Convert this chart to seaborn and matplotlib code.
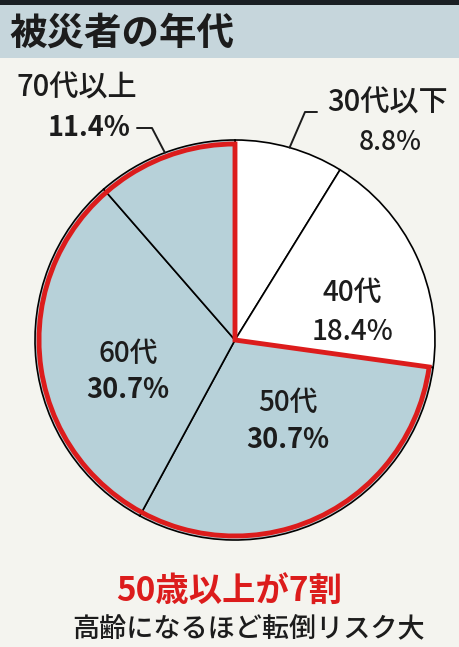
import numpy as np
import seaborn as sns
import matplotlib.pyplot as plt
from matplotlib.patches import Wedge, Rectangle

# data
age_groups = ["30代以下", "40代", "50代", "60代", "70代以上"]
shares = [8.8, 18.4, 30.7, 30.7, 11.4]
share_labels = ["8.8%", "18.4%", "30.7%", "30.7%", "11.4%"]
title = "被災者の年代"
headline = "50歳以上が7割"
subline = "高齢になるほど転倒リスク大"

sns.set_theme(style="white")
plt.rcParams["font.family"] = ["Noto Sans CJK JP", "DejaVu Sans"]

bg = "#f4f4ef"
blue = "#b7d1d9"
red = "#dc1c1c"
ink = "#1c1c1c"
slice_colors = ["white", "white", blue, blue, blue]
bold_pct = [False, False, True, True, True]

fig = plt.figure(figsize=(4.59, 6.47), dpi=100, facecolor=bg)

# header bands
fig.patches.append(Rectangle((0, 1 - 5 / 647), 1, 5 / 647, transform=fig.transFigure,
                             facecolor="#1a1f24", edgecolor="none"))
fig.patches.append(Rectangle((0, 1 - 58 / 647), 1, 53 / 647, transform=fig.transFigure,
                             facecolor="#c6d6dc", edgecolor="none"))
fig.text(9 / 459, 1 - 33 / 647, title, fontsize=27, fontweight="bold", color=ink,
         va="center", ha="left")

ax = fig.add_axes([35 / 459, 107 / 647, 400 / 459, 400 / 647])
ax.set_facecolor("none")
wedges, _ = ax.pie(shares, colors=slice_colors, startangle=90, counterclock=False,
                   radius=1, wedgeprops=dict(edgecolor="black", linewidth=1.2))
ax.set_xlim(-1, 1)
ax.set_ylim(-1, 1)

# red outline around the 50+ group (clockwise from the 50代 edge up to the top)
over50_start = 90 - 360 * sum(shares[:2]) / sum(shares)
ax.add_patch(Wedge((0, 0), 0.98, 90, over50_start + 360, fill=False, edgecolor=red,
                   linewidth=3.5, joinstyle="miter", zorder=5))

# labels inside the pie
inside = {1: (0.585, 0.24, 0.04), 2: (0.265, -0.31, -0.5), 3: (-0.535, -0.065, -0.25)}
for i, (x, y1, y2) in inside.items():
    ax.text(x, y1, age_groups[i], ha="center", va="center", fontsize=20,
            fontweight="medium", color=ink)
    ax.text(x, y2, share_labels[i], ha="center", va="center",
            fontsize=19.5 if bold_pct[i] else 20,
            fontweight="bold" if bold_pct[i] else "medium", color=ink)

cum = np.cumsum([0] + shares) / sum(shares) * 360
def mid_point(i):
    a = np.deg2rad(90 - (cum[i] + cum[i + 1]) / 2)
    return np.cos(a), np.sin(a)

# 30代以下 (outside, top right)
ax.text(0.76, 1.185, age_groups[0], ha="center", va="center", fontsize=21,
        fontweight="medium", color=ink, clip_on=False)
ax.text(0.775, 0.985, share_labels[0], ha="center", va="center", fontsize=19,
        fontweight="medium", color=ink, clip_on=False)
px, py = mid_point(0)
ax.plot([0.41, 0.35, px], [1.14, 1.14, py], color=ink, lw=1.4, clip_on=False)

# 70代以上 (outside, top left)
ax.text(-0.79, 1.26, age_groups[4], ha="center", va="center", fontsize=21,
        fontweight="medium", color=ink, clip_on=False)
ax.text(-0.73, 1.06, share_labels[4], ha="center", va="center", fontsize=19.5,
        fontweight="bold", color=ink, clip_on=False)
px, py = mid_point(4)
ax.plot([-0.49, -0.415, px], [1.06, 1.06, py], color=ink, lw=1.4, clip_on=False)

fig.text(229 / 459, 1 - 592 / 647, headline, fontsize=24, fontweight="bold", color=red,
         ha="center", va="center")
fig.text(249 / 459, 1 - 630 / 647, subline, fontsize=19.5, fontweight="medium", color=ink,
         ha="center", va="center")

fig.savefig("out.png", dpi=100, facecolor=bg)
